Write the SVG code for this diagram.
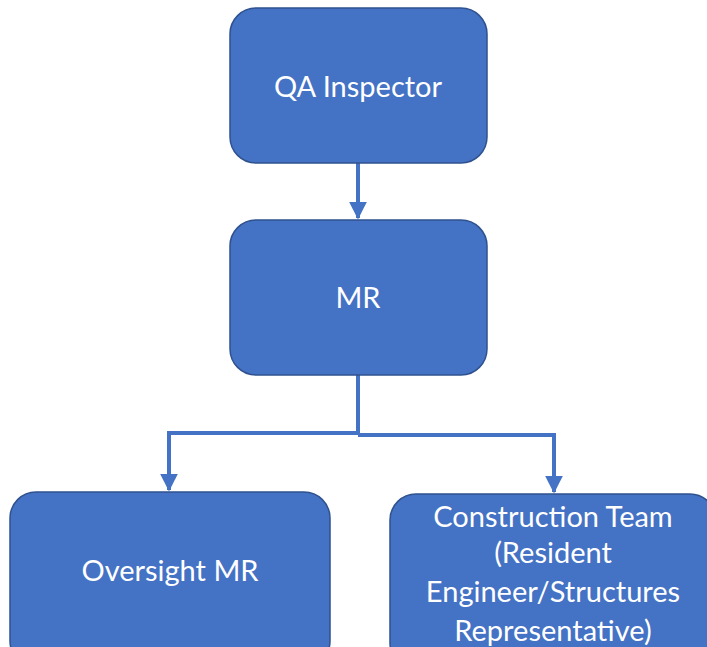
<svg xmlns="http://www.w3.org/2000/svg" width="707" height="647" viewBox="0 0 707 647">
<style>
.box{fill:#4472C4;stroke:#2F528F;stroke-width:1.5}
.t{font-family:Lato,"Liberation Sans",sans-serif;font-size:29px;fill:#FFFFFF;text-anchor:middle}
.c{fill:none;stroke:#4472C4;stroke-width:4}
</style>
<defs>
<marker id="ah" markerWidth="5" markerHeight="5" refX="4" refY="2.2" orient="auto" markerUnits="strokeWidth">
<path d="M0,0 L4.4,2.2 L0,4.4 Z" fill="#4472C4"/>
</marker>
</defs>
<rect width="707" height="647" fill="#FFFFFF"/>
<g id="connectors">
<path class="c" d="M358,163 V218" marker-end="url(#ah)"/>
<path class="c" d="M358,375 V433 H169 V490" marker-end="url(#ah)"/>
<path class="c" d="M358,435 H554 V492" marker-end="url(#ah)"/>
</g>
<g id="qa">
<rect class="box" x="230" y="8" width="257" height="155" rx="26"/>
<text class="t" x="358" y="97">QA Inspector</text>
</g>
<g id="mr">
<rect class="box" x="230" y="220" width="257" height="155" rx="26"/>
<text class="t" x="358" y="308">MR</text>
</g>
<g id="oversight">
<rect class="box" x="10" y="492" width="320" height="175" rx="26"/>
<text class="t" x="170" y="581">Oversight MR</text>
</g>
<g id="construction">
<rect class="box" x="390" y="494" width="326" height="175" rx="26"/>
<text class="t" x="553" y="527">Construction Team</text>
<text class="t" x="553" y="563">(Resident</text>
<text class="t" x="553" y="602">Engineer/Structures</text>
<text class="t" x="553" y="641">Representative)</text>
</g>
</svg>
